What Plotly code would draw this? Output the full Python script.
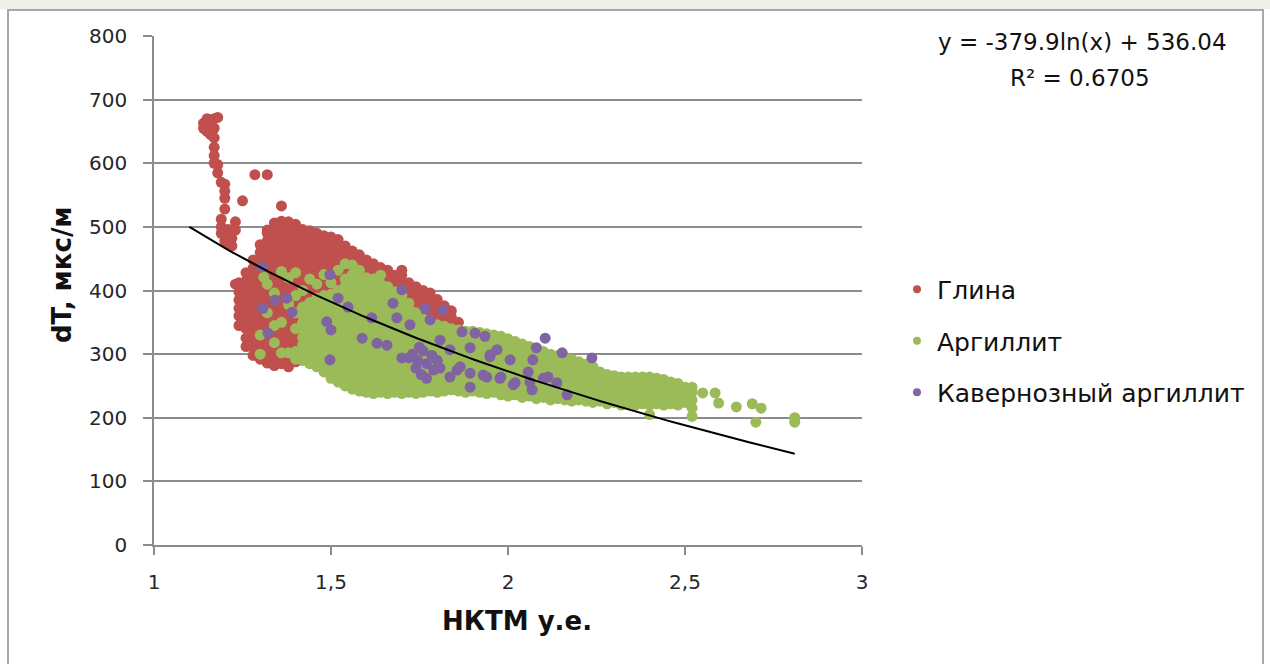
import numpy as np
import plotly.graph_objects as go

# ---------------- data ----------------
# Глина (red): column x values and the y values in each column
red_col_x = [1.14, 1.15, 1.16, 1.17, 1.18, 1.19, 1.20, 1.21, 1.22, 1.23, 1.25, 1.285,
             1.24, 1.26, 1.28, 1.30, 1.32, 1.34, 1.36, 1.38, 1.40, 1.42, 1.44, 1.46,
             1.48, 1.50, 1.52, 1.54, 1.56, 1.58, 1.60, 1.62, 1.64, 1.66, 1.68, 1.70,
             1.72, 1.74, 1.76, 1.78, 1.80, 1.82, 1.84, 1.86]
red_col_y = [
    [655, 663],
    [650, 662, 670],
    [645, 658, 668],
    [600, 612, 625, 640, 655, 670],
    [585, 598, 672],
    [490, 500, 512, 570],
    [478, 488, 528, 545, 556, 567],
    [472, 484, 496],
    [470, 482],
    [410, 495, 508],
    [345, 358, 380, 395, 541],
    [582],
    [345, 360, 372, 385, 398, 412],
    [312, 325, 340, 352, 365, 378, 390, 402, 415, 428],
    [298, 310, 322, 335, 348, 360, 372, 385, 398, 410, 422, 435, 448],
    [292, 304, 316, 328, 340, 352, 364, 376, 388, 400, 412, 424, 436, 448, 460, 472],
    [286, 298, 310, 322, 334, 346, 358, 370, 382, 394, 406, 418, 430, 442, 454, 466, 478, 490, 495, 582],
    [282, 294, 306, 318, 330, 342, 354, 366, 378, 390, 402, 414, 426, 438, 450, 462, 474, 486, 498, 506],
    [285, 297, 309, 321, 333, 345, 357, 369, 381, 393, 405, 417, 429, 441, 453, 465, 477, 489, 501, 509, 533],
    [280, 292, 304, 316, 328, 340, 352, 364, 376, 388, 400, 412, 424, 436, 448, 460, 472, 484, 496, 508],
    [288, 300, 312, 324, 336, 348, 360, 372, 384, 396, 408, 420, 432, 444, 456, 468, 480, 492, 504],
    [292, 304, 316, 328, 340, 352, 364, 376, 388, 400, 412, 424, 436, 448, 460, 472, 484, 496],
    [302, 314, 326, 338, 350, 362, 374, 386, 398, 410, 422, 434, 446, 458, 470, 482, 494],
    [312, 324, 336, 348, 360, 372, 384, 396, 408, 420, 432, 444, 456, 468, 480, 490],
    [320, 332, 344, 356, 368, 380, 392, 404, 416, 428, 440, 452, 464, 476, 486],
    [334, 346, 358, 370, 382, 394, 406, 418, 430, 442, 454, 466, 478, 484],
    [342, 354, 366, 378, 390, 402, 414, 426, 438, 450, 462, 474, 480],
    [350, 362, 374, 386, 398, 410, 422, 434, 446, 458, 470],
    [255, 352, 364, 376, 388, 400, 412, 424, 436, 448, 462],
    [350, 362, 374, 386, 398, 410, 422, 434, 446, 456],
    [352, 364, 376, 388, 400, 412, 424, 436, 448],
    [350, 362, 374, 386, 398, 410, 422, 434, 442],
    [344, 356, 368, 380, 392, 404, 416, 428, 436],
    [342, 354, 366, 378, 390, 402, 414, 426, 432],
    [340, 352, 364, 376, 388, 400, 412, 424],
    [342, 354, 366, 378, 390, 402, 414, 424, 432],
    [340, 352, 364, 376, 388, 400, 412],
    [346, 358, 370, 382, 394, 406],
    [340, 352, 364, 376, 388, 400],
    [342, 354, 366, 378, 390, 396],
    [340, 352, 364, 376, 386],
    [342, 354, 366, 376],
    [346, 358, 368],
    [350],
]

# Аргиллит (green)
green_col_x = [1.30, 1.31, 1.32, 1.34, 1.36, 1.38, 1.40, 1.42, 1.44, 1.46, 1.48, 1.50,
               1.52, 1.54, 1.56, 1.58, 1.60, 1.62, 1.64, 1.66, 1.68, 1.70, 1.72, 1.74,
               1.76, 1.78, 1.80, 1.82, 1.84, 1.86, 1.88, 1.90, 1.92, 1.94, 1.96, 1.98,
               2.00, 2.02, 2.04, 2.06, 2.08, 2.10, 2.12, 2.14, 2.16, 2.18, 2.20, 2.22,
               2.24, 2.26, 2.28, 2.30, 2.32, 2.34, 2.36, 2.38, 2.40, 2.42, 2.44, 2.46,
               2.48, 2.50, 2.52, 2.55, 2.585, 2.595, 2.645, 2.69, 2.70, 2.715, 2.81]
green_col_y = [
    [300, 330],
    [421],
    [365, 410],
    [318, 345, 396],
    [302, 350, 430],
    [302, 378, 420],
    [292, 304, 340, 365, 392, 428],
    [290, 302, 314, 326, 338, 350, 362, 374, 400],
    [285, 297, 309, 321, 333, 345, 357, 369, 381, 418],
    [280, 292, 304, 316, 328, 340, 352, 364, 376, 388, 410],
    [272, 284, 296, 308, 320, 332, 344, 356, 368, 380, 392, 425],
    [262, 274, 286, 298, 310, 322, 334, 346, 358, 370, 382, 394, 412],
    [256, 268, 280, 292, 304, 316, 328, 340, 352, 364, 376, 388, 400, 432],
    [250, 262, 274, 286, 298, 310, 322, 334, 346, 358, 370, 382, 394, 406, 418, 442],
    [245, 257, 269, 281, 293, 305, 317, 329, 341, 353, 365, 377, 389, 401, 413, 425, 440],
    [242, 254, 266, 278, 290, 302, 314, 326, 338, 350, 362, 374, 386, 398, 410, 422, 432],
    [240, 252, 264, 276, 288, 300, 312, 324, 336, 348, 360, 372, 384, 396, 408, 420],
    [238, 250, 262, 274, 286, 298, 310, 322, 334, 346, 358, 370, 382, 394, 406, 418],
    [240, 252, 264, 276, 288, 300, 312, 324, 336, 348, 360, 372, 384, 396, 410, 424],
    [238, 250, 262, 274, 286, 298, 310, 322, 334, 346, 358, 370, 382, 394, 406],
    [240, 252, 264, 276, 288, 300, 312, 324, 336, 348, 360, 372, 384, 398],
    [238, 250, 262, 274, 286, 298, 310, 322, 334, 346, 358, 370, 382, 392],
    [240, 252, 264, 276, 288, 300, 312, 324, 336, 348, 360, 372, 380],
    [238, 250, 262, 274, 286, 298, 310, 322, 334, 346, 358, 365],
    [240, 252, 264, 276, 288, 300, 312, 324, 336, 348, 355],
    [242, 254, 266, 278, 290, 302, 314, 326, 338, 350],
    [240, 252, 264, 276, 288, 300, 312, 324, 336, 346],
    [242, 254, 266, 278, 290, 302, 314, 326, 338, 344],
    [244, 256, 268, 280, 292, 304, 316, 328, 340],
    [242, 254, 266, 278, 290, 302, 314, 326, 338],
    [240, 252, 264, 276, 288, 300, 312, 324, 336],
    [242, 254, 266, 278, 290, 302, 314, 326, 336],
    [240, 252, 264, 276, 288, 300, 312, 324, 334],
    [238, 250, 262, 274, 286, 298, 310, 322, 332],
    [240, 252, 264, 276, 288, 300, 312, 324, 330],
    [236, 248, 260, 272, 284, 296, 308, 320, 328],
    [234, 246, 258, 270, 282, 294, 306, 318, 324],
    [236, 248, 260, 272, 284, 296, 308, 320],
    [232, 244, 256, 268, 280, 292, 304, 316],
    [234, 246, 258, 270, 282, 294, 306, 312],
    [230, 242, 254, 266, 278, 290, 302, 308],
    [232, 244, 256, 268, 280, 292, 304],
    [228, 240, 252, 264, 276, 288, 300],
    [230, 242, 254, 266, 278, 290, 298],
    [228, 240, 252, 264, 276, 288, 296],
    [226, 238, 250, 262, 274, 286, 292],
    [228, 240, 252, 264, 276, 288],
    [226, 238, 250, 262, 274, 284],
    [224, 236, 248, 260, 272, 280],
    [226, 238, 250, 262, 272],
    [222, 234, 246, 258, 268],
    [224, 236, 248, 260, 266],
    [220, 232, 244, 256, 264],
    [222, 234, 246, 258, 264],
    [220, 232, 244, 256, 264],
    [222, 234, 246, 258, 264],
    [205, 220, 232, 244, 256, 264],
    [222, 234, 246, 258, 262],
    [220, 232, 244, 256, 260],
    [222, 234, 246, 256],
    [220, 232, 244, 254],
    [224, 236, 248],
    [202, 215, 228, 240, 248],
    [239],
    [239],
    [223],
    [217],
    [222],
    [193],
    [215],
    [193, 200],
]

# Кавернозный аргиллит (purple)
purple_x = [1.305, 1.497, 1.342, 1.375, 1.39, 1.308, 1.322, 1.497, 1.488, 1.50,
            1.52, 1.548, 1.588, 1.63, 1.658, 1.615, 1.675, 1.70, 1.686, 1.723,
            1.766, 1.78, 1.816, 1.808, 1.87, 1.907, 1.935, 1.893, 1.969, 1.949,
            1.73, 1.745, 1.76, 1.74, 1.755, 1.77, 1.785, 1.79, 1.80, 1.72,
            1.70, 1.808, 1.77, 1.75, 1.836, 1.865, 1.893, 1.856, 1.893, 1.836,
            1.93, 1.977, 2.006, 2.02, 2.057, 2.062, 2.08, 2.07, 2.105, 2.153,
            2.237, 2.10, 2.113, 2.138, 2.167, 1.95, 1.94, 1.98, 2.015, 2.068]
purple_y = [437, 425, 385, 388, 366, 372, 333, 291, 351, 338,
            388, 374, 325, 317, 314, 357, 380, 401, 357, 346,
            372, 354, 369, 322, 335, 333, 328, 310, 307, 296,
            300, 290, 305, 278, 268, 285, 298, 275, 290, 294,
            294, 278, 262, 311, 307, 280, 270, 275, 248, 264,
            267, 262, 291, 255, 272, 256, 310, 291, 325, 302,
            294, 262, 264, 255, 236, 299, 264, 264, 252, 244]

# Logarithmic trend line shown on the chart: y = a*ln(x) + b
trend_a = -379.9
trend_b = 536.04
trend_x_range = [1.1, 2.81]

series_names = ["Глина", "Аргиллит", "Кавернозный аргиллит"]
series_colors = ["#C0504D", "#9BBB59", "#8064A2"]

x_tick_vals = [1, 1.5, 2, 2.5, 3]
x_tick_text = ["1", "1,5", "2", "2,5", "3"]
y_tick_vals = [0, 100, 200, 300, 400, 500, 600, 700, 800]

equation_text = "y = -379.9ln(x) + 536.04"
r2_text = "R² = 0.6705"


def flatten(cols_x, cols_y):
    xs, ys = [], []
    for cx, cy in zip(cols_x, cols_y):
        for v in cy:
            xs.append(cx)
            ys.append(v)
    return xs, ys


red_x, red_y = flatten(red_col_x, red_col_y)
green_x, green_y = flatten(green_col_x, green_col_y)

# ---------------- figure ----------------
W, H = 1270, 664
ML, MR, MT, MB = 154, 408, 36, 119
PW, PH = W - ML - MR, H - MT - MB


def px_x(p):
    return (p - ML) / PW


def px_y(p):
    return (H - MB - p) / PH


fig = go.Figure()
marker_size = 11
legend_marker_size = 8
for name, col, xs, ys in [(series_names[0], series_colors[0], red_x, red_y),
                          (series_names[1], series_colors[1], green_x, green_y),
                          (series_names[2], series_colors[2], purple_x, purple_y)]:
    fig.add_trace(go.Scatter(
        x=xs, y=ys, mode="markers", name=name, legendgroup=name, showlegend=False,
        marker=dict(color=col, size=marker_size, line=dict(width=0)),
        hoverinfo="skip"))

# legend-only entries (smaller symbols, as in the original legend)
for name, col in zip(series_names, series_colors):
    fig.add_trace(go.Scatter(
        x=[None], y=[None], mode="markers", name=name, legendgroup=name,
        marker=dict(color=col, size=legend_marker_size, line=dict(width=0)),
        hoverinfo="skip"))

tx = np.linspace(trend_x_range[0], trend_x_range[1], 120)
ty = trend_a * np.log(tx) + trend_b
fig.add_trace(go.Scatter(x=tx, y=ty, mode="lines", showlegend=False,
                         line=dict(color="black", width=2), hoverinfo="skip"))

axis_gray = "#8C8C8C"
tick_font = dict(family="DejaVu Sans", size=20, color="#262626")

fig.update_xaxes(range=[1, 3], tickvals=x_tick_vals, ticktext=x_tick_text,
                 showgrid=False, zeroline=False, showline=True, linecolor=axis_gray,
                 linewidth=1.5, ticks="outside", ticklen=8, tickcolor=axis_gray,
                 tickwidth=1.5, tickfont=tick_font, ticklabelstandoff=10)
fig.update_yaxes(range=[0, 800], tickvals=y_tick_vals,
                 showgrid=True, gridcolor=axis_gray, gridwidth=1.5,
                 zeroline=False, showline=True, linecolor=axis_gray, linewidth=1.5,
                 ticks="outside", ticklen=9, tickcolor=axis_gray, tickwidth=1.5,
                 tickfont=tick_font, ticklabelstandoff=12)

annotations = [
    dict(text="НКТМ у.е.", x=px_x(517), y=px_y(621), xref="paper", yref="paper",
         showarrow=False, xanchor="center", yanchor="middle",
         font=dict(family="DejaVu Sans", size=26, color="#111111", weight="bold")),
    dict(text="dT, мкс/м", x=px_x(62), y=px_y(275), xref="paper", yref="paper",
         showarrow=False, xanchor="center", yanchor="middle", textangle=-90,
         font=dict(family="DejaVu Sans", size=26, color="#111111", weight="bold")),
    dict(text=equation_text, x=px_x(1082), y=px_y(42), xref="paper", yref="paper",
         showarrow=False, xanchor="center", yanchor="middle",
         font=dict(family="DejaVu Sans", size=23, color="#111111")),
    dict(text=r2_text, x=px_x(1080), y=px_y(78), xref="paper", yref="paper",
         showarrow=False, xanchor="center", yanchor="middle",
         font=dict(family="DejaVu Sans", size=23, color="#111111")),
]

shapes = [
    dict(type="rect", xref="paper", yref="paper",
         x0=px_x(0), x1=px_x(W), y0=px_y(0), y1=px_y(9),
         fillcolor="#EFEEE8", line=dict(width=0), layer="below"),
    dict(type="rect", xref="paper", yref="paper",
         x0=px_x(8), x1=px_x(1263), y0=px_y(10), y1=px_y(H + 10),
         line=dict(color="#A8A8A8", width=2), fillcolor="rgba(0,0,0,0)"),
]

fig.update_layout(
    width=W, height=H,
    margin=dict(l=ML, r=MR, t=MT, b=MB, pad=0),
    paper_bgcolor="white", plot_bgcolor="white",
    showlegend=True,
    legend=dict(x=px_x(897), y=px_y(341), xanchor="left", yanchor="middle",
                font=dict(family="DejaVu Sans", size=25, color="#111111"),
                traceorder="grouped", tracegroupgap=16,
                bgcolor="rgba(0,0,0,0)", borderwidth=0),
    annotations=annotations,
    shapes=shapes,
    font=dict(family="DejaVu Sans"),
)

fig.write_html("out.html")
